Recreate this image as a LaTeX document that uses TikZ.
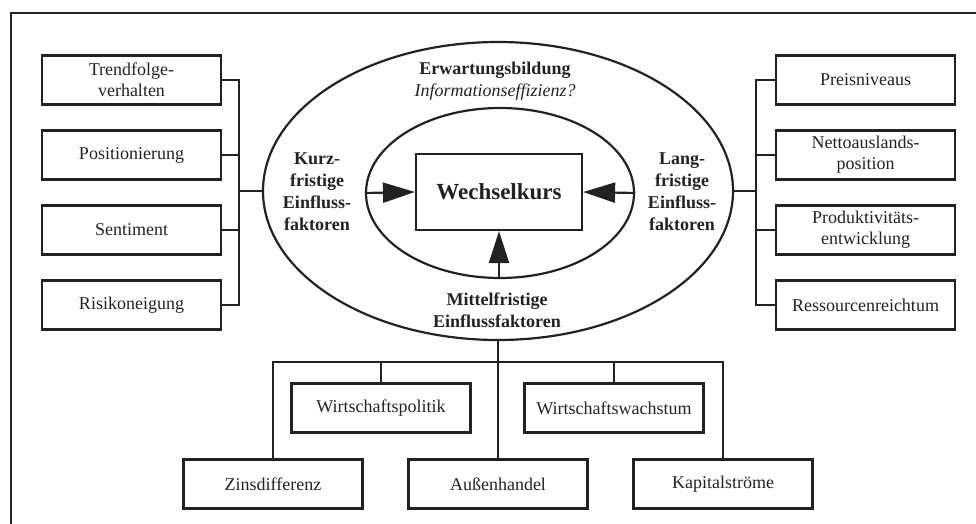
\documentclass[tikz,border=0pt]{standalone}
\usepackage{fontspec}
\setmainfont{Liberation Serif}
\usetikzlibrary{shapes.geometric,arrows.meta}
\definecolor{ink}{HTML}{222222}
\begin{document}
\begin{tikzpicture}[x=1pt,y=-1pt,
  line join=miter,
  factor/.style={draw=ink,text=ink,line width=2.2pt,minimum width=179pt,minimum height=49pt,
    inner sep=0pt,align=center,font=\fontsize{18}{21}\selectfont},
  ring/.style={draw=ink,line width=2.2pt,ellipse,inner sep=0pt},
  heading/.style={text=ink,align=center,inner sep=0pt,font=\fontsize{18}{22}\selectfont\bfseries},
  link/.style={draw=ink,line width=2pt},
  push/.style={draw=ink,line width=2.2pt,-{Triangle[length=32pt,width=20pt]}}
]
\useasboundingbox (0,0) rectangle (976,524);

% frame
\draw[ink,line width=2.7pt] (11,524) -- (11,13) -- (976,13);

% ellipses and the exchange rate
\node[ring,minimum width=470pt,minimum height=298pt] (outer) at (498,191) {};
\node[ring,minimum width=268pt,minimum height=170pt] (inner) at (500,193) {};
\node[draw=ink,text=ink,line width=2.2pt,minimum width=166pt,minimum height=76pt,inner sep=0pt,
  font=\fontsize{23}{27}\selectfont\bfseries] (wk) at (499,192) {Wechselkurs};

\draw[push] (inner.west) -- (wk.west);
\draw[push] (inner.east) -- (wk.east);
\draw[push] (inner.south -| wk.south) -- (wk.south);

% labels inside the outer ellipse
\node[text=ink,align=center,inner sep=0pt,font=\fontsize{18}{22}\selectfont] (erw) at (495,81)
  {\textbf{Erwartungsbildung}\\\textit{Informationseffizienz?}};
\node[heading] (kurz) at (317,192) {Kurz-\\fristige\\Einfluss-\\faktoren};
\node[heading] (lang) at (682,192) {Lang-\\fristige\\Einfluss-\\faktoren};
\node[heading] (mittel) at (497,310) {Mittelfristige\\Einflussfaktoren};

% short-term factors
\node[factor] (l1) at (131.5,80)  {Trendfolge-\\verhalten};
\node[factor] (l2) at (131.5,155) {Positionierung};
\node[factor] (l3) at (131.5,230) {Sentiment};
\node[factor] (l4) at (131.5,305) {Risikoneigung};

% long-term factors
\node[factor] (r1) at (865.5,80)  {Preisniveaus};
\node[factor] (r2) at (865.5,155) {Nettoauslands-\\position};
\node[factor] (r3) at (865.5,230) {Produktivitäts-\\entwicklung};
\node[factor] (r4) at (865.5,305) {Ressourcenreichtum};

% medium-term factors
\node[factor] (m1) at (381,408)   {Wirtschaftspolitik};
\node[factor] (m2) at (614,408)   {Wirtschaftswachstum};
\node[factor] (b1) at (273,484)   {Zinsdifferenz};
\node[factor] (b2) at (498,484)   {Außenhandel};
\node[factor] (b3) at (723,484)   {Kapitalströme};

% bus lines
\coordinate (lbus) at (239,191);
\coordinate (rbus) at (756,191);
\coordinate (bbus) at (498,362);

\draw[link] (l1.east) -- (l1.east -| lbus) -- (l4.east -| lbus) -- (l4.east);
\draw[link] (l2.east) -- (l2.east -| lbus);
\draw[link] (l3.east) -- (l3.east -| lbus);
\draw[link] (lbus) -- (outer.west);

\draw[link] (r1.west) -- (r1.west -| rbus) -- (r4.west -| rbus) -- (r4.west);
\draw[link] (r2.west) -- (r2.west -| rbus);
\draw[link] (r3.west) -- (r3.west -| rbus);
\draw[link] (rbus) -- (outer.east);

\draw[link] (b1.north) -- (b1.north |- bbus) -- (b3.north |- bbus) -- (b3.north);
\draw[link] (outer.south) -- (b2.north);
\draw[link] (m1.north |- bbus) -- (m1.north);
\draw[link] (m2.north |- bbus) -- (m2.north);
\end{tikzpicture}
\end{document}
